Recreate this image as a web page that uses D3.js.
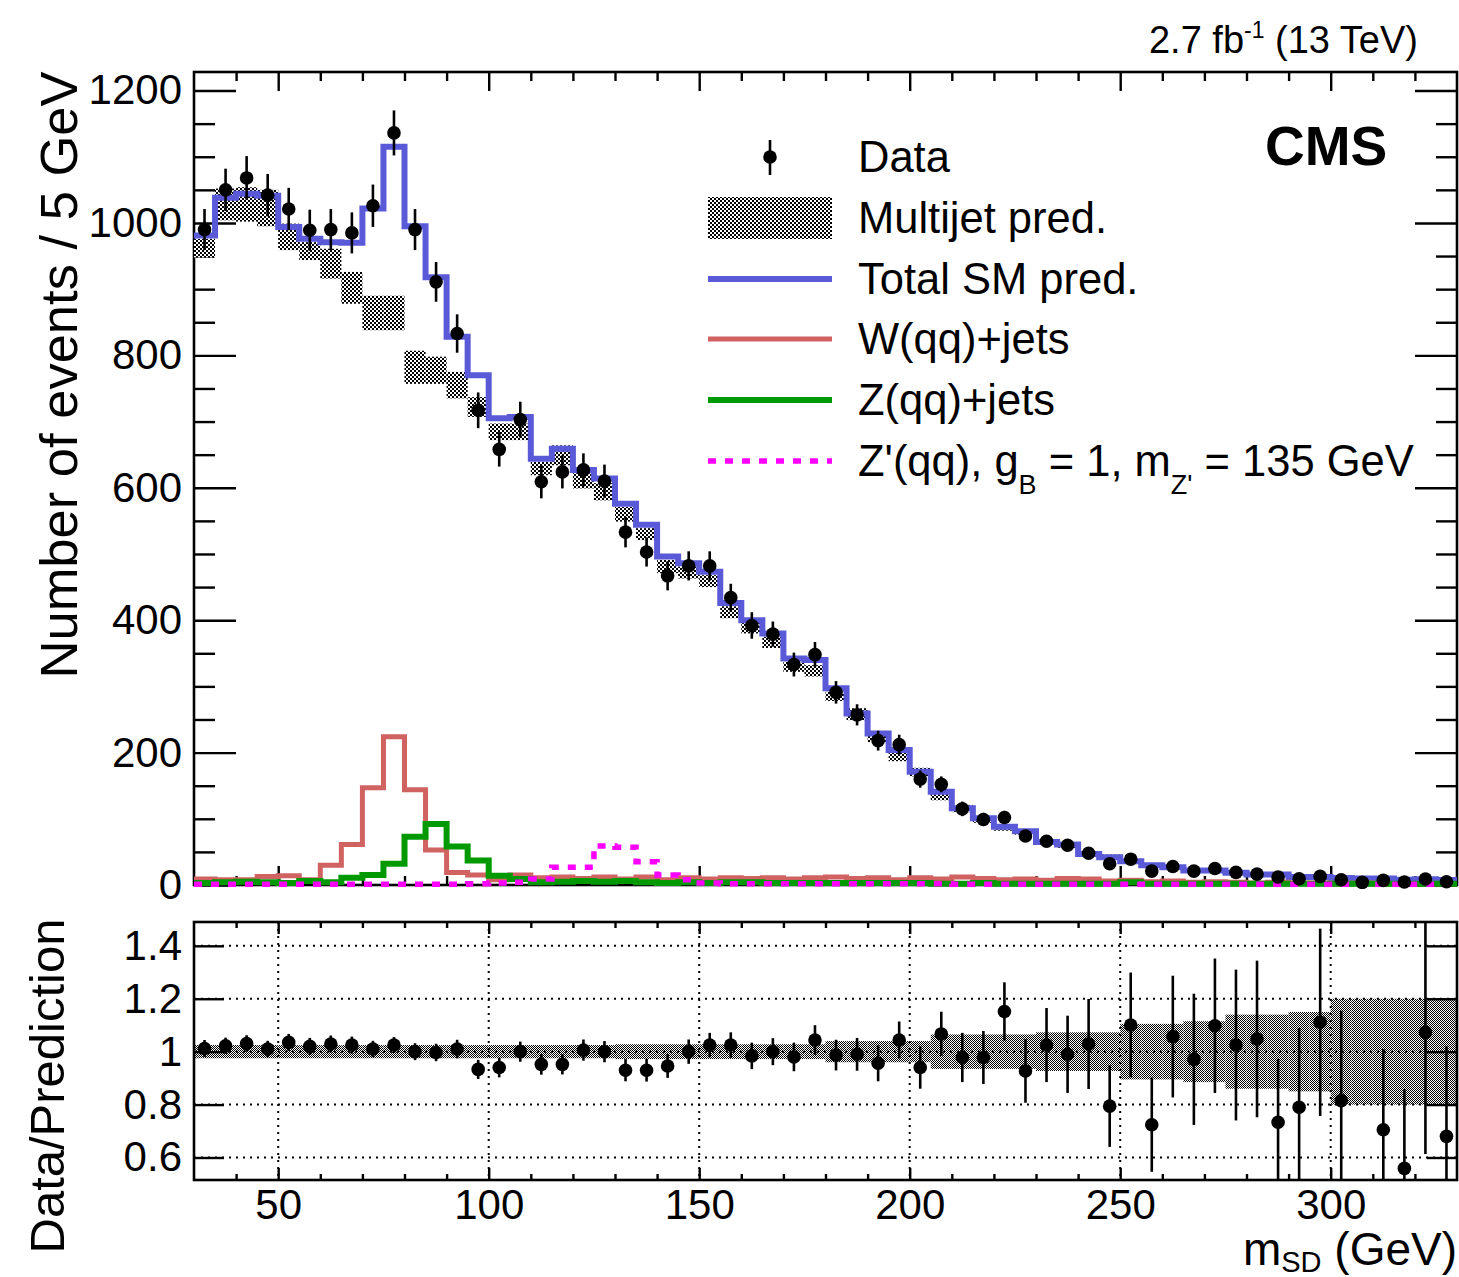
<!DOCTYPE html>
<html><head><meta charset="utf-8">
<script src="https://cdn.jsdelivr.net/npm/d3@7"></script>
<style>
body{margin:0;background:#fff}
svg{display:block}
text{font-family:"Liberation Sans",Arial,Helvetica,sans-serif;fill:#000}
</style>
</head><body>
<svg id="c" width="1459" height="1277"></svg>
<script>
// ---------------- data (bin lower edges, 5 GeV bins) ----------------
const binLow = [30,35,40,45,50,55,60,65,70,75,80,85,90,95,100,105,110,115,120,125,
  130,135,140,145,150,155,160,165,170,175,180,185,190,195,200,205,210,215,220,225,
  230,235,240,245,250,255,260,265,270,275,280,285,290,295,300,305,310,315,320,325];
const binWidth = 5;

const dataCounts = [990,1050,1068,1042,1021,989,990,985,1026,1136,
  990,911,833,717,658,703,609,624,627,610,
  533,503,467,482,482,434,392,379,333,348,
  291,257,218,212,160,152,115,99,102,74,
  66,60,48,32,39,21,28,21,25,19,
  16.5,12,9.5,13,8,4,7,4.5,9,5];
const dataErr = [31,32,33,32,32,31,31,31,32,34,
  31,30,29,27,26,27,25,25,25,25,
  23,22,22,22,22,21,20,19,18,19,
  17,16,15,15,13,12,11,10,10,9,
  8,8,7,6,6,5,5,4.5,5,4.4,
  4,3.5,3,3.6,2.8,2,2.6,2.1,3,2.2];

const totalSM = [981,1038,1044,1041,994,976,971,970,1022,1115,
  995,918,828,770,705,707,644,659,627,614,
  576,544,496,486,473,426,400,380,342,340,
  297,259,229,204,171,141,116,101,88,81,
  65,61,47,42,36,30,27,22,22,18.5,
  16,16,12,12,10.5,10,9.8,8,8.5,7.5];

const multijetLow = [948,1004,1002,995,959,944,916,878,838,838,
  757,757,735,707,672,672,619,634,599,581,
  549,521,471,463,450,403,380,358,322,315,
  278,249,216,187,164,128,110,94,82,76,
  61,56,44,40,34,27,25,20,20,17,
  14.5,14,10.5,10.5,9,8.5,8.5,7,7.5,6.5];
const multijetHigh = [976,1052,1054,1050,999,971,961,926,890,890,
  807,798,775,737,697,697,639,664,622,607,
  571,539,491,481,468,421,398,375,337,332,
  292,267,232,201,177,140,121,103,90,83,
  68,62,50,46,39,31,29,24,24,20,
  17,17,13,13,12,11,10.5,9,9.5,8.5];

const wJets = [9,8,8,13,14,8,30,61,147,224,
  144,53,19,15,8,15,11,12,10,12,
  9,12,8,11,9,11,10,11,9,11,
  12,10,11,8,11,9,12,10,8,9,
  7,10,9,6,7,5,6,4,5,4,
  3,4,3,3,2,3,2,2,2,2];
const zJets = [3,4,5,4,3,6,4,11,15,32,
  73,92,58,37,14,9,4,5,6,5,
  6,4,3,4,3,4,4,3,3,3,
  3,3,3,3,3,2,2,3,2,2,
  2,2,2,2,4,2,2,2,2,2,
  2,2,2,2,2,2,2,2,2,2];
const zPrime = [1,1,1,1,1,1,1,1,1,1,
  1,1,1,2,3,4,9,27,27,59,
  57,35,15,8,3,2,2,2,2,2,
  2,2,2,2,2,2,1,1,1,1,
  1,1,1,1,1,1,1,1,1,1,
  1,1,1,1,1,1,1,1,1,1];

const ratioVals = [1.012,1.022,1.031,1.010,1.035,1.020,1.029,1.025,1.010,1.025,
  1.000,0.997,1.010,0.933,0.940,1.000,0.952,0.952,1.006,1.000,
  0.930,0.930,0.946,1.000,1.025,1.025,0.984,1.000,0.980,1.044,
  0.987,0.990,0.956,1.044,0.940,1.067,0.978,0.978,1.152,0.927,
  1.025,0.990,1.029,0.794,1.101,0.724,1.057,0.971,1.098,1.025,
  1.048,0.733,0.790,1.111,0.815,null,0.705,0.559,1.073,0.680];
const ratioErr = [0.032,0.031,0.031,0.031,0.032,0.032,0.032,0.032,0.031,0.030,
  0.032,0.033,0.035,0.036,0.037,0.038,0.039,0.038,0.040,0.040,
  0.042,0.043,0.045,0.046,0.046,0.048,0.050,0.051,0.054,0.056,
  0.058,0.062,0.068,0.070,0.080,0.084,0.093,0.100,0.110,0.120,
  0.140,0.146,0.170,0.154,0.198,0.178,0.230,0.248,0.254,0.285,
  0.296,0.240,0.300,0.354,0.340,null,0.305,0.300,0.460,0.340];
const ratioBand = [0.025,0.025,0.025,0.025,0.025,0.025,0.025,0.025,0.025,0.025,
  0.025,0.025,0.025,0.025,0.025,0.025,0.025,0.025,0.025,0.025,
  0.028,0.028,0.028,0.028,0.028,0.028,0.028,0.028,0.028,0.028,
  0.04,0.04,0.04,0.04,0.04,0.065,0.065,0.065,0.065,0.065,
  0.073,0.073,0.073,0.073,0.105,0.105,0.105,0.115,0.115,0.14,
  0.14,0.14,0.15,0.15,0.2,0.2,0.2,0.2,0.2,0.2];

const topMajorY = [0,200,400,600,800,1000,1200];
const topMinorY = [50,100,150,250,300,350,450,500,550,650,700,750,850,900,950,1050,1100,1150];
const xMajor = [50,100,150,200,250,300];
const xMinor = [40,60,70,80,90,110,120,130,140,160,170,180,190,210,220,230,240,260,270,280,290,310,320];
const ratioTicks = [0.6,0.8,1,1.2,1.4];
const ratioLabels = ["0.6","0.8","1","1.2","1.4"];

const legendItems = ["Data","Multijet pred.","Total SM pred.","W(qq)+jets","Z(qq)+jets"];

// ---------------- layout ----------------
const X0 = 194, X1 = 1457, TY0 = 72, TY1 = 885, RY0 = 922, RY1 = 1180;
const C_BLUE = "#5a5ad8", C_RED = "#d06262", C_GREEN = "#009a00", C_MAG = "#ff00ff";

const svg = d3.select("#c");
const x = d3.scaleLinear().domain([30,330]).range([X0,X1]);
const y = d3.scaleLinear().domain([0,1228]).range([TY1,TY0]);
const yr = d3.scaleLinear().domain([0.515,1.49]).range([RY1,RY0]);

const defs = svg.append("defs");
const p1 = defs.append("pattern").attr("id","chk").attr("patternUnits","userSpaceOnUse")
  .attr("width",4).attr("height",4);
p1.append("rect").attr("width",4).attr("height",4).attr("fill","#fff");
p1.append("rect").attr("x",0).attr("y",0).attr("width",2).attr("height",2).attr("fill","#000");
p1.append("rect").attr("x",2).attr("y",2).attr("width",2).attr("height",2).attr("fill","#000");
const p2 = defs.append("pattern").attr("id","chkf").attr("patternUnits","userSpaceOnUse")
  .attr("width",2).attr("height",2);
p2.append("rect").attr("width",2).attr("height",2).attr("fill","#fff");
p2.append("rect").attr("x",0).attr("y",0).attr("width",1).attr("height",1).attr("fill","#000");
p2.append("rect").attr("x",1).attr("y",1).attr("width",1).attr("height",1).attr("fill","#000");
defs.append("clipPath").attr("id","clipTop").append("rect")
  .attr("x",X0).attr("y",TY0).attr("width",X1-X0).attr("height",TY1-TY0+4);
defs.append("clipPath").attr("id","clipR").append("rect")
  .attr("x",X0).attr("y",RY0).attr("width",X1-X0).attr("height",RY1-RY0);

const bins = binLow.map((lo,i)=>({lo, hi: lo+binWidth, c: lo+binWidth/2, i}));

function styleAxis(g){
  g.select(".domain").remove();
  g.selectAll(".tick line").attr("stroke","#000").attr("stroke-width",2.4);
  g.selectAll(".tick text").attr("font-size",42).attr("font-family",'"Liberation Sans",Arial,sans-serif').attr("fill","#000");
}

// ---------------- top panel frame + axes ----------------
svg.append("rect").attr("x",X0).attr("y",TY0).attr("width",X1-X0).attr("height",TY1-TY0)
  .attr("fill","none").attr("stroke","#000").attr("stroke-width",2.6);
svg.append("g").attr("transform",`translate(${X0},0)`)
  .call(d3.axisLeft(y).tickValues(topMajorY).tickSize(-42).tickPadding(12).tickFormat(d3.format("d")))
  .call(styleAxis);
svg.append("g").attr("transform",`translate(${X0},0)`)
  .call(d3.axisLeft(y).tickValues(topMinorY).tickSize(-21).tickFormat(""))
  .call(styleAxis);
svg.append("g").attr("transform",`translate(${X1},0)`)
  .call(d3.axisRight(y).tickValues(topMajorY).tickSize(-42).tickFormat(""))
  .call(styleAxis);
svg.append("g").attr("transform",`translate(${X1},0)`)
  .call(d3.axisRight(y).tickValues(topMinorY).tickSize(-21).tickFormat(""))
  .call(styleAxis);
svg.append("g").attr("transform",`translate(0,${TY1})`)
  .call(d3.axisBottom(x).tickValues(xMajor).tickSize(-19).tickFormat(""))
  .call(styleAxis);
svg.append("g").attr("transform",`translate(0,${TY1})`)
  .call(d3.axisBottom(x).tickValues(xMinor).tickSize(-9).tickFormat(""))
  .call(styleAxis);
svg.append("g").attr("transform",`translate(0,${TY0})`)
  .call(d3.axisTop(x).tickValues(xMajor).tickSize(-19).tickFormat(""))
  .call(styleAxis);
svg.append("g").attr("transform",`translate(0,${TY0})`)
  .call(d3.axisTop(x).tickValues(xMinor).tickSize(-9).tickFormat(""))
  .call(styleAxis);

// ---------------- top panel content ----------------
const topG = svg.append("g").attr("clip-path","url(#clipTop)");

topG.selectAll("rect.mj").data(bins).join("rect").attr("class","mj")
  .attr("x",d=>x(d.lo)).attr("width",d=>x(d.hi)-x(d.lo))
  .attr("y",d=>y(multijetHigh[d.i])).attr("height",d=>y(multijetLow[d.i])-y(multijetHigh[d.i]))
  .attr("fill","url(#chk)");

function stepPts(vals){
  const pts=[];
  bins.forEach(b=>{pts.push([b.lo,vals[b.i]]);pts.push([b.hi,vals[b.i]]);});
  return pts;
}
const stepLine = d3.line().x(d=>x(d[0])).y(d=>y(d[1]));
function drawStep(vals,color,w,dash){
  const p = topG.append("path").attr("d",stepLine(stepPts(vals)))
    .attr("fill","none").attr("stroke",color).attr("stroke-width",w)
    .attr("stroke-linejoin","miter");
  if(dash) p.attr("stroke-dasharray",dash);
}
drawStep(totalSM,C_BLUE,6);
drawStep(wJets,C_RED,5);
drawStep(zJets,C_GREEN,6);
drawStep(zPrime,C_MAG,5.5,"8,9");

const dg = topG.append("g");
dg.selectAll("line").data(bins).join("line")
  .attr("x1",d=>x(d.c)).attr("x2",d=>x(d.c))
  .attr("y1",d=>y(dataCounts[d.i]+dataErr[d.i])).attr("y2",d=>y(dataCounts[d.i]-dataErr[d.i]))
  .attr("stroke","#000").attr("stroke-width",2.6);
dg.selectAll("circle").data(bins).join("circle")
  .attr("cx",d=>x(d.c)).attr("cy",d=>y(dataCounts[d.i])).attr("r",6.8).attr("fill","#000");

// ---------------- ratio panel ----------------
const rp = svg.append("g").attr("clip-path","url(#clipR)");
rp.selectAll("rect.rb").data(bins).join("rect").attr("class","rb")
  .attr("x",d=>x(d.lo)).attr("width",d=>x(d.hi)-x(d.lo))
  .attr("y",d=>yr(1+ratioBand[d.i])).attr("height",d=>yr(1-ratioBand[d.i])-yr(1+ratioBand[d.i]))
  .attr("fill","url(#chkf)");

rp.selectAll("line.gx").data(xMajor).join("line").attr("class","gx")
  .attr("x1",d=>x(d)).attr("x2",d=>x(d)).attr("y1",RY0).attr("y2",RY1)
  .attr("stroke","#000").attr("stroke-width",2).attr("stroke-dasharray","2,5");
rp.selectAll("line.gy").data(ratioTicks).join("line").attr("class","gy")
  .attr("x1",X0).attr("x2",X1).attr("y1",d=>yr(d)).attr("y2",d=>yr(d))
  .attr("stroke","#000").attr("stroke-width",2).attr("stroke-dasharray","2,5");

const rbins = bins.filter(b=>ratioVals[b.i]!==null);
rp.selectAll("line.re").data(rbins).join("line").attr("class","re")
  .attr("x1",d=>x(d.c)).attr("x2",d=>x(d.c))
  .attr("y1",d=>yr(ratioVals[d.i]+ratioErr[d.i])).attr("y2",d=>yr(ratioVals[d.i]-ratioErr[d.i]))
  .attr("stroke","#000").attr("stroke-width",2.6);
rp.selectAll("circle").data(rbins).join("circle")
  .attr("cx",d=>x(d.c)).attr("cy",d=>yr(ratioVals[d.i])).attr("r",6.8).attr("fill","#000");

svg.append("g").attr("transform",`translate(${X0},0)`)
  .call(d3.axisLeft(yr).tickValues(ratioTicks).tickSize(-30).tickPadding(12).tickFormat((d,i)=>ratioLabels[i]))
  .call(styleAxis);
svg.append("g").attr("transform",`translate(${X1},0)`)
  .call(d3.axisRight(yr).tickValues(ratioTicks).tickSize(-30).tickFormat(""))
  .call(styleAxis);
svg.append("g").attr("transform",`translate(0,${RY1})`)
  .call(d3.axisBottom(x).tickValues(xMajor).tickSize(-12).tickPadding(9).tickFormat(d3.format("d")))
  .call(styleAxis);
svg.append("g").attr("transform",`translate(0,${RY1})`)
  .call(d3.axisBottom(x).tickValues(xMinor).tickSize(-6).tickFormat(""))
  .call(styleAxis);
svg.append("g").attr("transform",`translate(0,${RY0})`)
  .call(d3.axisTop(x).tickValues(xMajor).tickSize(-12).tickFormat(""))
  .call(styleAxis);
svg.append("g").attr("transform",`translate(0,${RY0})`)
  .call(d3.axisTop(x).tickValues(xMinor).tickSize(-6).tickFormat(""))
  .call(styleAxis);

svg.append("rect").attr("x",X0).attr("y",RY0).attr("width",X1-X0).attr("height",RY1-RY0)
  .attr("fill","none").attr("stroke","#000").attr("stroke-width",2.6);

// ---------------- titles ----------------
svg.append("text").attr("transform","translate(77,375) rotate(-90)")
  .attr("text-anchor","middle").attr("font-size",52.5).text("Number of events / 5 GeV");
svg.append("text").attr("transform","translate(64,1086) rotate(-90)")
  .attr("text-anchor","middle").attr("font-size",49).text("Data/Prediction");

const xt = svg.append("text").attr("x",1457).attr("y",1265).attr("text-anchor","end").attr("font-size",46);
xt.append("tspan").text("m");
xt.append("tspan").attr("font-size",29).attr("dy",7).text("SD");
xt.append("tspan").attr("dy",-7).text(" (GeV)");

const lt = svg.append("text").attr("x",1418).attr("y",53).attr("text-anchor","end").attr("font-size",38);
lt.append("tspan").text("2.7 fb");
lt.append("tspan").attr("font-size",23).attr("dy",-15).text("-1");
lt.append("tspan").attr("dy",15).text(" (13 TeV)");

svg.append("text").attr("x",1265).attr("y",165).attr("font-size",55).attr("font-weight","bold").text("CMS");

// ---------------- legend ----------------
const LX0 = 708, LX1 = 832, LT = 858;
const rowY = [157, 218, 279, 339, 400, 461];
const lg = svg.append("g");
lg.append("line").attr("x1",(LX0+LX1)/2).attr("x2",(LX0+LX1)/2).attr("y1",rowY[0]-17).attr("y2",rowY[0]+18)
  .attr("stroke","#000").attr("stroke-width",2.6);
lg.append("circle").attr("cx",(LX0+LX1)/2).attr("cy",rowY[0]).attr("r",6.8).attr("fill","#000");
lg.append("rect").attr("x",LX0).attr("y",rowY[1]-21).attr("width",LX1-LX0).attr("height",42).attr("fill","url(#chk)");
[[C_BLUE,6,null],[C_RED,5,null],[C_GREEN,6,null],[C_MAG,5.5,"8,9"]].forEach((s,j)=>{
  const l = lg.append("line").attr("x1",LX0).attr("x2",LX1).attr("y1",rowY[j+2]).attr("y2",rowY[j+2])
    .attr("stroke",s[0]).attr("stroke-width",s[1]);
  if(s[2]) l.attr("stroke-dasharray",s[2]);
});
legendItems.forEach((t,j)=>{
  lg.append("text").attr("x",LT).attr("y",rowY[j]+15).attr("font-size",43.5).text(t);
});
const zt = lg.append("text").attr("x",LT).attr("y",rowY[5]+15).attr("font-size",43.5);
zt.append("tspan").text("Z'(qq), g");
zt.append("tspan").attr("font-size",27).attr("dy",18).text("B");
zt.append("tspan").attr("dy",-18).text(" = 1, m");
zt.append("tspan").attr("font-size",27).attr("dy",18).text("Z'");
zt.append("tspan").attr("dy",-18).text(" = 135 GeV");
</script>
</body></html>
